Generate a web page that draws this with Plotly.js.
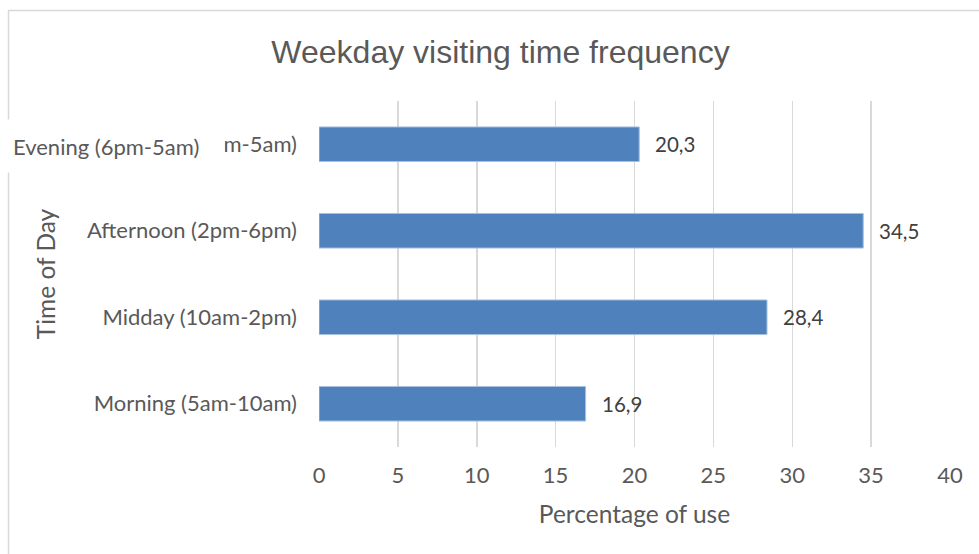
<!DOCTYPE html>
<html>
<head>
<meta charset="utf-8">
<script src="https://cdn.plot.ly/plotly-3.0.1.min.js"></script>
<style>html,body{margin:0;padding:0;background:#fff;}#chart{width:979px;height:554px;}</style>
</head>
<body>
<div id="chart"></div>
<script>
const categories = ["Morning (5am-10am)", "Midday (10am-2pm)", "Afternoon (2pm-6pm)", "Evening (6pm-5am)"];
const values = [16.9, 28.4, 34.5, 20.3];
const valueLabels = ["16,9", "28,4", "34,5", "20,3"];
const xTicks = [0, 5, 10, 15, 20, 25, 30, 35, 40];
const overlayLabel = "Evening (6pm-5am)";

const W = 979, H = 554;
const mL = 319, mR = 29, mT = 101, mB = 107;
const pw = W - mL - mR, ph = H - mT - mB;
const px = p => (p - mL) / pw;
const py = p => (H - mB - p) / ph;

const FONT = "Lato, 'Open Sans', sans-serif";
const tickFont = {family: FONT, size: 22, color: "#595959"};

const trace = {
  type: "bar",
  orientation: "h",
  x: values,
  y: categories,
  marker: {color: "#4f81bd", line: {color: "#a9c0df", width: 1}},
  hoverinfo: "none"
};

const annotations = values.map((v, i) => ({
  x: v, y: categories[i], xref: "x", yref: "y",
  text: valueLabels[i], showarrow: false,
  xanchor: "left", xshift: 14,
  font: {family: FONT, size: 20.5, color: "#404040"}
}));

annotations.push({
  xref: "paper", yref: "paper",
  x: px(6), y: py(146),
  xanchor: "left", yanchor: "middle",
  text: overlayLabel, showarrow: false,
  align: "left",
  width: 205, height: 40,
  bgcolor: "#ffffff", borderpad: 6,
  font: tickFont
});

const layout = {
  width: W, height: H,
  margin: {l: mL, r: mR, t: mT, b: mB, pad: 0},
  paper_bgcolor: "#ffffff",
  plot_bgcolor: "#ffffff",
  showlegend: false,
  bargap: 0.6,
  separators: ",.",
  title: {
    text: "Weekday visiting time frequency",
    font: {family: "'Liberation Sans', Arial, sans-serif", size: 32, color: "#595959"},
    x: 500.5 / W, xref: "container", xanchor: "center",
    y: 1 - 52 / H, yref: "container", yanchor: "middle"
  },
  xaxis: {
    range: [0, 40],
    tickvals: xTicks,
    ticktext: xTicks.map(String),
    showgrid: true, gridcolor: "#d9d9d9", gridwidth: 1.5,
    zeroline: false, showline: false,
    ticks: "", ticklabelstandoff: 13,
    tickfont: tickFont,
    title: {text: "Percentage of use", font: {family: FONT, size: 24.5, color: "#595959"}, standoff: 18},
    fixedrange: true
  },
  yaxis: {
    type: "category",
    categoryorder: "array",
    categoryarray: categories,
    showgrid: false, zeroline: false, showline: false,
    ticks: "", ticklabelstandoff: 21,
    tickfont: tickFont,
    title: {text: "Time of Day", font: {family: FONT, size: 24.5, color: "#595959"}, standoff: 24},
    fixedrange: true
  },
  shapes: [
    {type: "rect", xref: "paper", yref: "paper",
     x0: px(8.5), x1: px(990), y0: py(570), y1: py(10.5),
     line: {color: "#d9d9d9", width: 1.5}, fillcolor: "rgba(0,0,0,0)", layer: "below"}
  ],
  annotations: annotations
};

Plotly.newPlot("chart", [trace], layout, {displayModeBar: false, staticPlot: true});
</script>
</body>
</html>
